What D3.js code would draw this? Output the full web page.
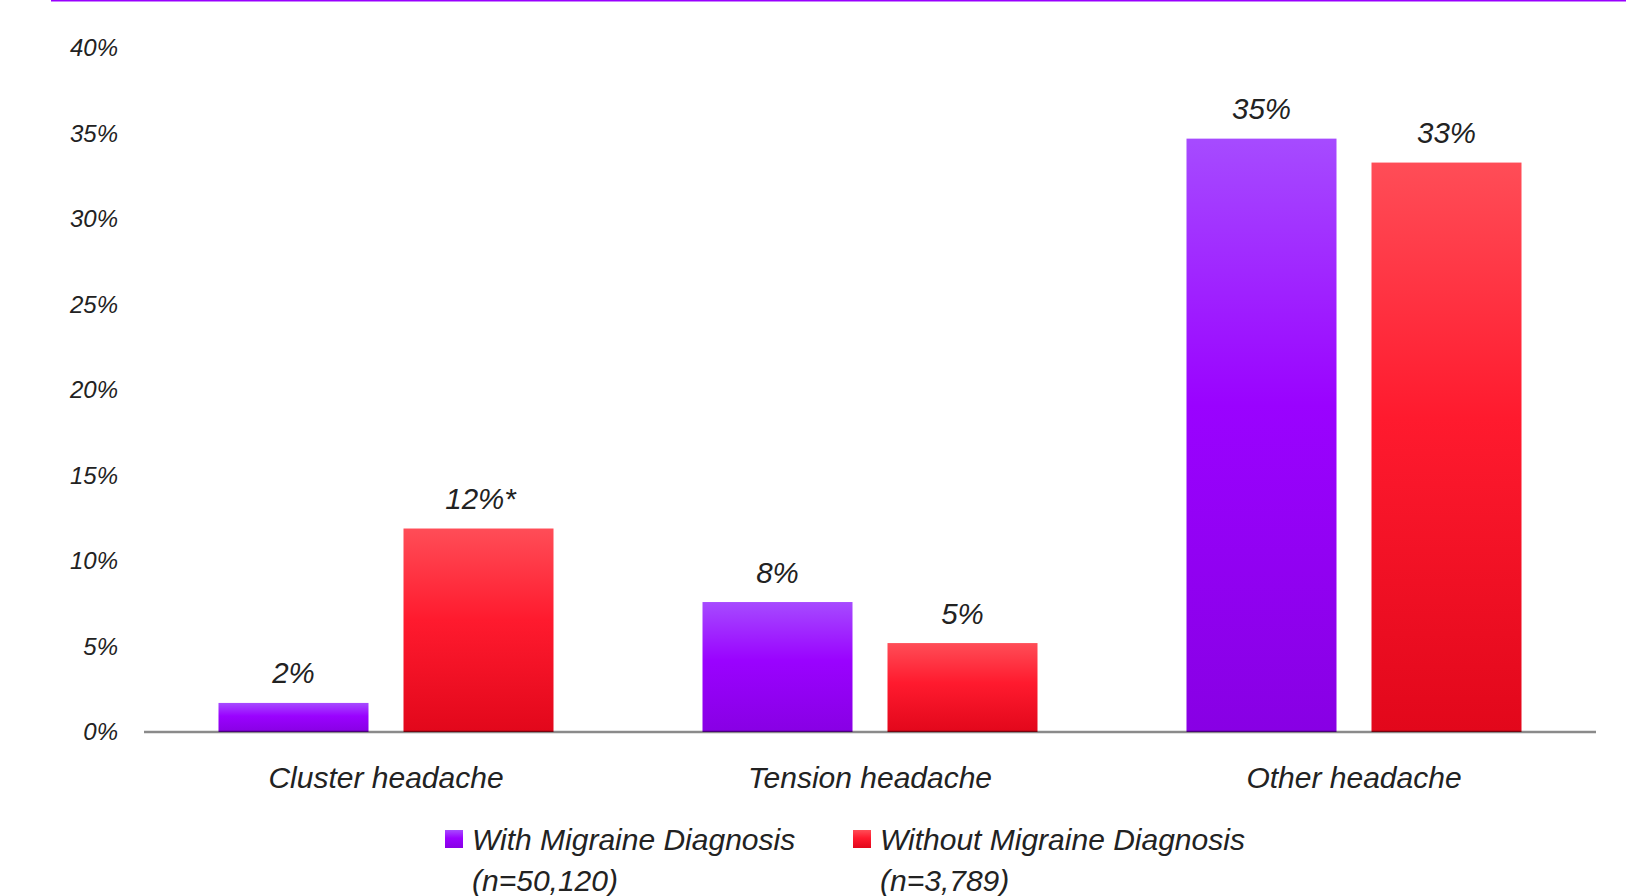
<!DOCTYPE html>
<html>
<head>
<meta charset="utf-8">
<script src="https://cdn.jsdelivr.net/npm/d3@7"></script>
<style>
  html, body { margin: 0; padding: 0; background: #fff; }
  svg { display: block; }
  text { font-family: "Liberation Sans", Arial, Helvetica, sans-serif; font-style: italic; fill: #222; }
</style>
</head>
<body>
<svg id="chart" width="1638" height="896"></svg>
<script>
const categories = ["Cluster headache", "Tension headache", "Other headache"];
const seriesNames = ["With Migraine Diagnosis", "Without Migraine Diagnosis"];
const seriesSub = ["(n=50,120)", "(n=3,789)"];
const withMigraine = [1.7, 7.6, 34.7];
const withoutMigraine = [11.9, 5.2, 33.3];
const valueLabels = [["2%", "8%", "35%"], ["12%*", "5%", "33%"]];
const yTicks = [0, 5, 10, 15, 20, 25, 30, 35, 40];

const svg = d3.select("#chart");

const y = d3.scaleLinear().domain([0, 40]).range([732, 48]);
const x0 = d3.scaleBand().domain(categories).range([144, 1596]).paddingInner(0).paddingOuter(0);
const x1 = d3.scaleBand().domain(seriesNames).range([74.5, 409.5]).paddingInner(35 / 185);

// gradients
const defs = svg.append("defs");
const grads = [
  { id: "gPurple", stops: [[0, "#a64bff"], [0.45, "#9a02ff"], [1, "#8800e4"]] },
  { id: "gRed", stops: [[0, "#ff4d57"], [0.45, "#ff1a2e"], [1, "#e2071b"]] }
];
grads.forEach(g => {
  const lg = defs.append("linearGradient").attr("id", g.id)
    .attr("x1", 0).attr("y1", 0).attr("x2", 0).attr("y2", 1);
  g.stops.forEach(s => lg.append("stop").attr("offset", s[0]).attr("stop-color", s[1]));
});
const fills = ["url(#gPurple)", "url(#gRed)"];

// top line
svg.append("line").attr("x1", 51).attr("x2", 1626).attr("y1", 0.6).attr("y2", 0.6)
  .attr("stroke", "#9900ff").attr("stroke-width", 1.6);

// y axis labels
const yAxis = d3.axisLeft(y).tickValues(yTicks).tickFormat(d => d + "%").tickSize(0).tickPadding(0);
const gy = svg.append("g").attr("transform", "translate(118,0)").call(yAxis);
gy.select(".domain").remove();
gy.selectAll("text").attr("font-size", 24).attr("font-family", null).attr("fill", "#222")
  .attr("dy", "0.32em").attr("x", 0);

const series = [withMigraine, withoutMigraine];
const groups = svg.append("g");
categories.forEach((c, ci) => {
  series.forEach((vals, si) => {
    const xs = x0(c) + x1(seriesNames[si]);
    const v = vals[ci];
    groups.append("rect")
      .attr("x", xs).attr("width", x1.bandwidth())
      .attr("y", y(v)).attr("height", y(0) - y(v))
      .attr("fill", fills[si]);
    groups.append("text")
      .attr("x", xs + x1.bandwidth() / 2 + (valueLabels[si][ci].includes("*") ? 2 : 0))
      .attr("y", y(v) - 19.5)
      .attr("text-anchor", "middle")
      .attr("font-size", 29.5)
      .text(valueLabels[si][ci]);
  });
});

// x axis
const xAxis = d3.axisBottom(x0).tickSize(0).tickPadding(0);
const gx = svg.append("g").attr("transform", `translate(0,${y(0)})`).call(xAxis);
gx.select(".domain").remove();
gx.selectAll("text").attr("font-size", 30).attr("font-family", null).attr("fill", "#222")
  .attr("y", 56).attr("dy", 0);
svg.append("line").attr("x1", 144).attr("x2", 1596).attr("y1", y(0)).attr("y2", y(0))
  .attr("stroke", "#000").attr("stroke-opacity", 0.46).attr("stroke-width", 2.5);

// legend
const legendX = [445, 853];
seriesNames.forEach((s, i) => {
  const g = svg.append("g").attr("transform", `translate(${legendX[i]},0)`);
  g.append("rect").attr("x", 0).attr("y", 830).attr("width", 18).attr("height", 18)
    .attr("fill", fills[i]);
  g.append("text").attr("x", 27).attr("y", 850).attr("font-size", 30).text(s);
  g.append("text").attr("x", 27).attr("y", 891).attr("font-size", 30).text(seriesSub[i]);
});
</script>
</body>
</html>
